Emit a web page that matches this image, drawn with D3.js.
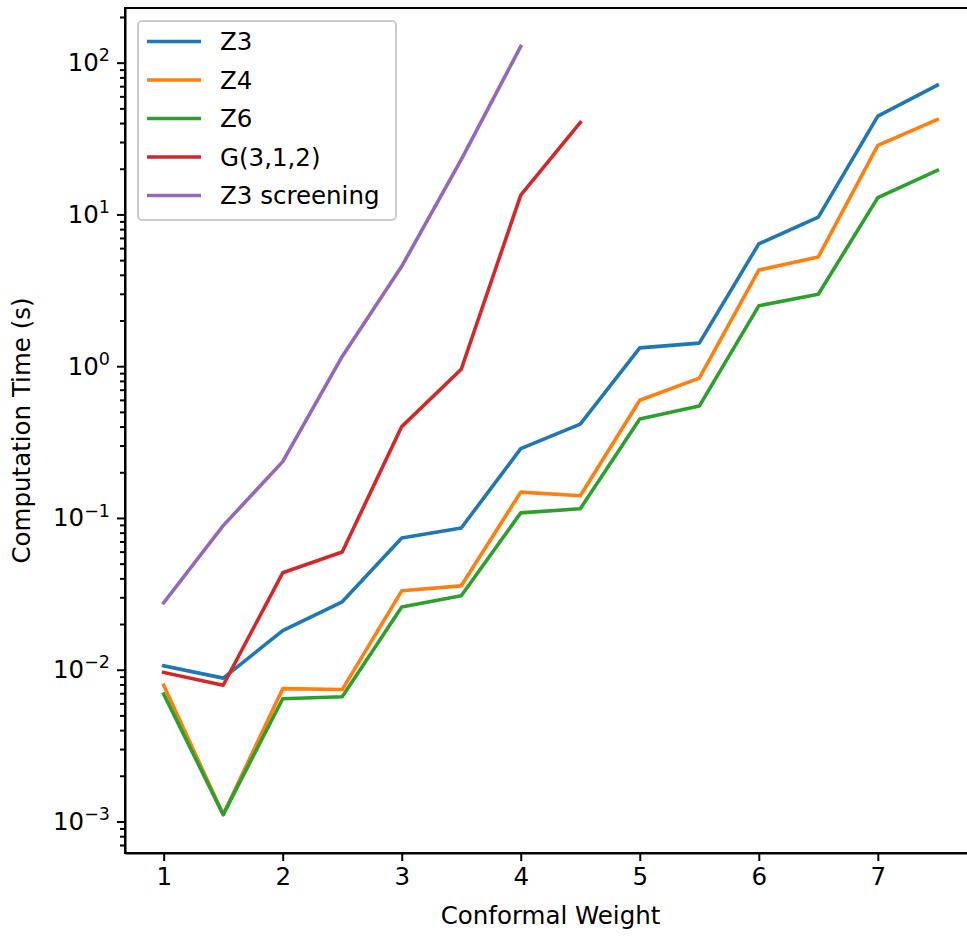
<!DOCTYPE html>
<html lang="en">
<head>
	<meta charset="UTF-8">
	<title>Computation Time</title>
	<script src="https://d3js.org/d3.v7.min.js"></script>
	<style>
		body { margin: 0; background: #fff; }
		svg { display: block; overflow: hidden; }
		text { font-family: "DejaVu Sans", sans-serif; fill: #000; }
	</style>
</head>
<body>
<script>
	//----data----
	var weights = [1, 1.5, 2, 2.5, 3, 3.5, 4, 4.5, 5, 5.5, 6, 6.5, 7, 7.5];
	var seriesNames = ['Z3', 'Z4', 'Z6', 'G(3,1,2)', 'Z3 screening'];
	var colors = ['#1f77b4', '#ff7f0e', '#2ca02c', '#d62728', '#9467bd'];

	var z3 = [0.0106, 0.0088, 0.0181, 0.028, 0.0738, 0.0859, 0.286, 0.415, 1.32, 1.42, 6.4, 9.6, 44.5, 71];
	var z4 = [0.0079, 0.00111, 0.0075, 0.0074, 0.0331, 0.0357, 0.148, 0.140, 0.597, 0.834, 4.3, 5.25, 28.5, 42.2];
	var z6 = [0.0069, 0.00111, 0.00644, 0.00664, 0.0259, 0.0307, 0.108, 0.115, 0.448, 0.546, 2.5, 2.98, 12.9, 19.5];
	var g312 = [0.0096, 0.0079, 0.0435, 0.0597, 0.40, 0.955, 13.4, 40.3];
	var z3screen = [0.0276, 0.089, 0.235, 1.16, 4.55, 23, 128];

	var xTicks = [1, 2, 3, 4, 5, 6, 7];
	var yExponents = [-3, -2, -1, 0, 1, 2];
	var xLabel = 'Conformal Weight';
	var yLabel = 'Computation Time (s)';

	var allSeries = [z3, z4, z6, g312, z3screen];

	window.onload = function () {
		var W = 967, H = 936;
		var margin = {top: 8, left: 125, bottom: 83, right: -9};
		var width = W - margin.left - margin.right,
			height = H - margin.top - margin.bottom;
		var fs = '24.5px';

		var svg = d3.select('body').append('svg')
			.attr('width', W)
			.attr('height', H);

		var g = svg.append('g')
			.attr('transform', 'translate(' + margin.left + ',' + margin.top + ')');

		//----scales, matplotlib style 5% margins----
		var xmin = d3.min(weights), xmax = d3.max(weights);
		var xpad = (xmax - xmin) * 0.05;
		var x = d3.scaleLinear()
			.domain([xmin - xpad, xmax + xpad])
			.range([0, width]);

		var flat = [].concat.apply([], allSeries);
		var lmin = Math.log10(d3.min(flat)), lmax = Math.log10(d3.max(flat));
		var lpad = (lmax - lmin) * 0.05;
		var y = d3.scaleLog()
			.domain([Math.pow(10, lmin - lpad), Math.pow(10, lmax + lpad)])
			.range([height, 0]);

		//----lines----
		var line = d3.line()
			.x(function (d) { return x(d[0]); })
			.y(function (d) { return y(d[1]); });

		allSeries.forEach(function (vals, i) {
			var pts = vals.map(function (v, j) { return [weights[j], v]; });
			g.append('path')
				.datum(pts)
				.attr('fill', 'none')
				.attr('stroke', colors[i])
				.attr('stroke-width', 3.6)
				.attr('stroke-linejoin', 'round')
				.attr('stroke-linecap', 'square')
				.attr('d', line);
		});

		//----axes----
		var minorTicks = [];
		var dom = y.domain();
		for (var e = -4; e <= 3; e++) {
			for (var k = 2; k <= 9; k++) {
				var v = k * Math.pow(10, e);
				if (v >= dom[0] && v <= dom[1]) minorTicks.push(v);
			}
		}
		var majors = yExponents.map(function (e) { return Math.pow(10, e); });

		var xAxis = g.append('g')
			.attr('transform', 'translate(0,' + height + ')')
			.call(d3.axisBottom(x).tickValues(xTicks).tickSize(8).tickSizeOuter(0).tickPadding(7)
				.tickFormat(d3.format('d')));

		var yMinor = g.append('g')
			.call(d3.axisLeft(y).tickValues(minorTicks).tickSize(5).tickSizeOuter(0).tickFormat(''));
		yMinor.select('.domain').remove();

		var yAxis = g.append('g')
			.call(d3.axisLeft(y).tickValues(majors).tickSize(8).tickSizeOuter(0).tickFormat(''));

		yAxis.selectAll('.tick').append('text')
			.attr('x', -15)
			.attr('dy', '0.32em')
			.attr('text-anchor', 'end')
			.style('font-size', fs)
			.each(function (d) {
				var t = d3.select(this);
				t.append('tspan').text('10');
				t.append('tspan')
					.attr('dy', '-0.55em')
					.style('font-size', '17.5px')
					.text(String(Math.round(Math.log10(d))).replace('-', '\u2212'));
			});

		xAxis.selectAll('text').style('font-size', fs).attr('fill', '#000');

		[xAxis, yAxis, yMinor].forEach(function (a) {
			a.selectAll('line').attr('stroke', '#000').attr('stroke-width', 2);
			a.select('.domain').attr('stroke', '#000').attr('stroke-width', 2);
			a.attr('font-family', null).attr('font-size', null);
		});

		//----frame----
		g.append('rect')
			.attr('width', width)
			.attr('height', height)
			.attr('fill', 'none')
			.attr('stroke', '#000')
			.attr('stroke-width', 2);

		//----labels----
		svg.append('text')
			.attr('x', margin.left + width / 2)
			.attr('y', 924)
			.attr('text-anchor', 'middle')
			.style('font-size', fs)
			.text(xLabel);

		svg.append('text')
			.attr('transform', 'translate(30,' + (margin.top + height / 2) + ') rotate(-90)')
			.attr('text-anchor', 'middle')
			.style('font-size', fs)
			.text(yLabel);

		//----legend----
		var legend = svg.append('g').attr('transform', 'translate(138,21)');
		legend.append('rect')
			.attr('width', 258)
			.attr('height', 199)
			.attr('rx', 4)
			.attr('fill', '#fff')
			.attr('fill-opacity', 0.8)
			.attr('stroke', '#cccccc')
			.attr('stroke-width', 2);

		seriesNames.forEach(function (name, i) {
			var row = legend.append('g').attr('transform', 'translate(0,' + (20.5 + i * 38.5) + ')');
			row.append('line')
				.attr('x1', 9).attr('x2', 63)
				.attr('stroke', colors[i])
				.attr('stroke-width', 3.6);
			row.append('text')
				.attr('x', 82)
				.attr('dy', '0.36em')
				.style('font-size', fs)
				.text(name);
		});
	};
</script>
</body>
</html>
